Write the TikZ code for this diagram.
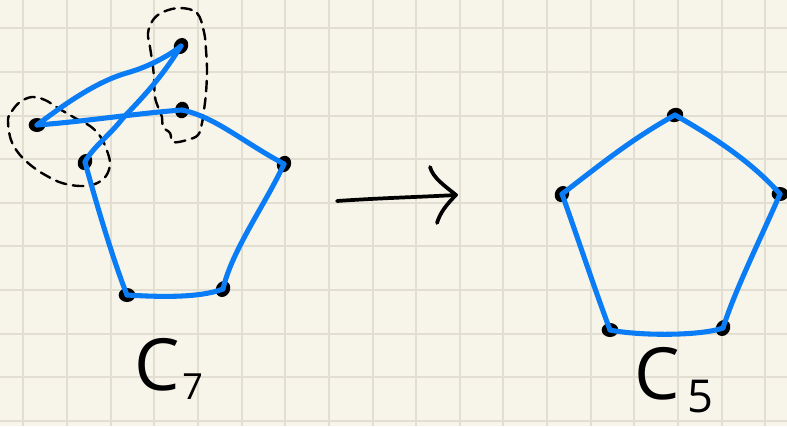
\documentclass[tikz,border=0pt]{standalone}
\usepackage{fontspec}
\setmainfont{Open Sans}
\usetikzlibrary{shapes.geometric}
\definecolor{paper}{HTML}{F7F5E9}
\definecolor{gridc}{HTML}{E2DFD2}
\definecolor{pen}{HTML}{0A7CF5}
\tikzset{
  gridline/.style={draw=gridc, line width=1.5pt},
  vdot/.style={ellipse, fill=black, inner sep=0pt, minimum width=12.5pt, minimum height=10.5pt},
  edge/.style={draw=pen, line width=3.8pt, line cap=round, line join=round},
  hull/.style={draw=black, line width=1.8pt, dash pattern=on 8pt off 5pt, line cap=round},
  ink/.style={draw=black, line width=2.8pt, line cap=round, line join=round},
  lbl/.style={inner sep=0pt, font=\fontsize{54}{54}\selectfont},
}
\begin{document}
\begin{tikzpicture}[x=0.75pt, y=-0.75pt]
  % paper and grid
  \fill[paper] (0,0) rectangle (787,426);
  \useasboundingbox (0,0) rectangle (787,426);
  \foreach \k in {0,...,17} \draw[gridline] ({23.3+43.65*\k},0) -- ({23.3+43.65*\k},426);
  \foreach \k in {0,...,9} \draw[gridline] (0,{28.3+43.6*\k}) -- (787,{28.3+43.6*\k});

  % dashed groupings of the contracted vertices
  \draw[hull] plot[smooth cycle, tension=0.6] coordinates {
    (180,8) (197,13) (204,32) (206,50) (207,70) (206,93) (204,110) (202,123)
    (198,135) (187,140) (173,142) (170,133) (163,127) (162,117) (158,107)
    (155,97) (154,80) (153,67) (150,47) (148,33) (153,20) (163,12)};
  \draw[hull] plot[smooth cycle, tension=0.6] coordinates {
    (8,120) (12,111) (20,102) (32,97) (45,100) (58,108) (75,118) (90,126)
    (100,136) (106,148) (110,163) (106,176) (95,184) (80,186) (62,183)
    (47,176) (33,167) (20,155) (11,140)};

  % C7 vertices
  \node[vdot, rotate=60] (a) at (181,46) {};
  \node[vdot, rotate=80] (b) at (182,110) {};
  \node[vdot] (c) at (37,125) {};
  \node[vdot, rotate=60] (d) at (85,162) {};
  \node[vdot, rotate=70] (e) at (284,164) {};
  \node[vdot] (f) at (127,295) {};
  \node[vdot, rotate=60] (g) at (223,289) {};

  % C7 edges
  \draw[edge] (c.center) .. controls (70,100) and (100,80) .. (130,72)
                         .. controls (150,66) and (170,55) .. (a.center);
  \draw[edge] (a.center) .. controls (160,80) and (140,100) .. (123,118)
                         .. controls (110,135) and (92,148) .. (d.center);
  \draw[edge] (c.center) .. controls (80,122) and (140,113) .. (b.center);
  \draw[edge] (b.center) .. controls (215,117) and (240,140) .. (e.center);
  \draw[edge] (e.center) .. controls (265,205) and (232,250) .. (g.center);
  \draw[edge] (g.center) .. controls (200,298) and (160,297) .. (f.center);
  \draw[edge] (f.center) .. controls (115,265) and (98,210) .. (d.center);

  % arrow
  \coordinate (ts) at (337,201);
  \coordinate (tt) at (456,195);
  \draw[ink] (ts) .. controls (380,198) and (420,197) .. (tt);
  \draw[ink] (430,167) .. controls (433,178) and (445,186) .. (tt)
             .. controls (446,205) and (440,213) .. (437,223);

  % C5 vertices
  \node[vdot, rotate=20] (p) at (675,115) {};
  \node[vdot, rotate=60] (q) at (562,194) {};
  \node[vdot] (r) at (780,194) {};
  \node[vdot] (s) at (610,330) {};
  \node[vdot, rotate=60] (t) at (723,328) {};

  % C5 edges
  \draw[edge] (q.center) .. controls (600,165) and (630,140) .. (p.center);
  \draw[edge] (p.center) .. controls (710,135) and (750,160) .. (r.center);
  \draw[edge] (r.center) .. controls (760,240) and (735,290) .. (t.center);
  \draw[edge] (t.center) .. controls (700,336) and (640,336) .. (s.center);
  \draw[edge] (s.center) .. controls (595,290) and (575,230) .. (q.center);

  % labels
  \node[lbl, anchor=base west] (l7) at (134,390)
    {C\hspace{2pt}\raisebox{-7pt}{\fontsize{27}{27}\selectfont 7}};
  \node[lbl, anchor=base west] (l5) at (634,399)
    {C\hspace{6pt}\raisebox{-10pt}{\fontsize{34}{34}\selectfont 5}};
\end{tikzpicture}
\end{document}
